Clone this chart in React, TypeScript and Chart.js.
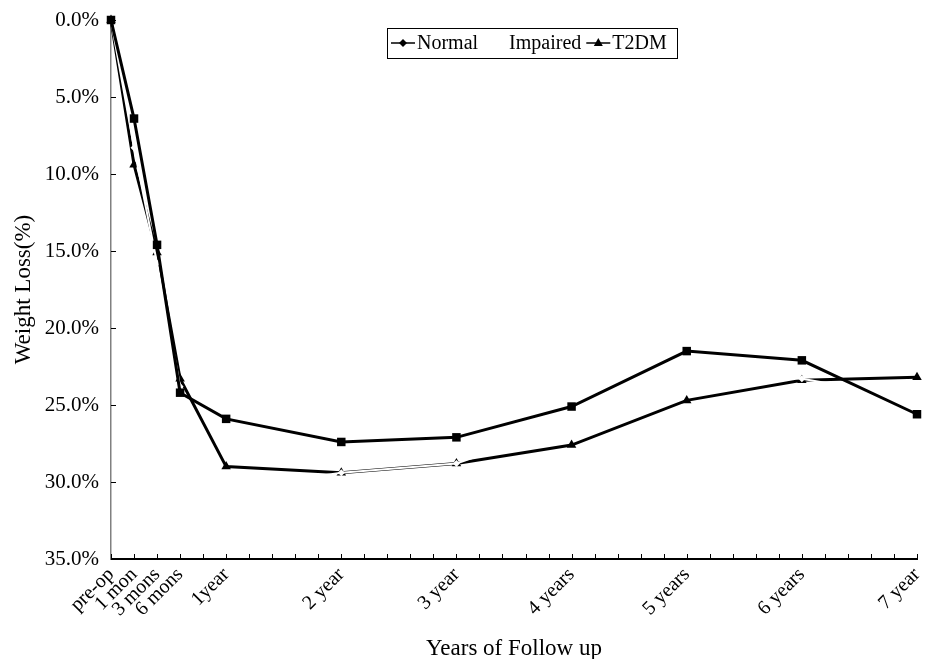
import React, { useEffect, useRef } from "react";
import { Chart, registerables } from "chart.js";

Chart.register(...registerables);

// ---- data ----
const categories = ["pre-op", "1 mon", "3 mons", "6 mons", "1year", "2 year", "3 year", "4 years", "5 years", "6 years", "7 year"];
// slot of each category on the 36-slot category axis (blank slots between years)
const categorySlot = [0, 1, 2, 3, 5, 10, 15, 20, 25, 30, 35];
const slotCount = 36;
const normal = [0, 6.4, 14.6, 24.2, 25.9, 27.4, 27.1, 25.1, 21.5, 22.1, 25.6];
const impaired = [0, 8.3, 15.8, 23.8, 30.5, 29.4, 28.8, 26.2, 22.6, 23.3, 24.6];
const t2dm = [0, 9.4, 15.1, 23.3, 29.0, 29.4, 28.8, 27.6, 24.7, 23.4, 23.2];
const yTicks = [0, 5, 10, 15, 20, 25, 30, 35];
const seriesNames = ["Normal", "Impaired", "T2DM"];
const legendMarkers = ["diamond", "none", "triangle"];

const FONT = "'Liberation Serif', 'Times New Roman', serif";

const toPoints = (vals: number[]) => vals.map((v, i) => ({ x: categorySlot[i], y: v }));

const inwardTicks = {
  id: "inwardTicks",
  beforeDatasetsDraw(chart: any) {
    const { ctx, chartArea, scales } = chart;
    const x = scales.x;
    const y = scales.y;
    ctx.save();
    ctx.strokeStyle = "#000";
    ctx.lineWidth = 1;
    ctx.beginPath();
    for (let i = 0; i < slotCount; i++) {
      const px = Math.round(x.getPixelForValue(i)) + 0.5;
      ctx.moveTo(px, chartArea.bottom);
      ctx.lineTo(px, chartArea.bottom - 5);
    }
    yTicks.forEach((v) => {
      const py = Math.round(y.getPixelForValue(v)) + 0.5;
      ctx.moveTo(chartArea.left, py);
      ctx.lineTo(chartArea.left + 5, py);
    });
    ctx.stroke();
    ctx.restore();
  },
};

function drawMarker(ctx: CanvasRenderingContext2D, kind: string, cx: number, cy: number) {
  ctx.fillStyle = "#000";
  ctx.beginPath();
  if (kind === "diamond") {
    ctx.moveTo(cx, cy - 4);
    ctx.lineTo(cx + 4, cy);
    ctx.lineTo(cx, cy + 4);
    ctx.lineTo(cx - 4, cy);
    ctx.closePath();
    ctx.fill();
  } else if (kind === "triangle") {
    ctx.moveTo(cx, cy - 5);
    ctx.lineTo(cx + 4.5, cy + 3);
    ctx.lineTo(cx - 4.5, cy + 3);
    ctx.closePath();
    ctx.fill();
  }
}

const boxLegend = {
  id: "boxLegend",
  afterDraw(chart: any) {
    const { ctx } = chart;
    const left = 387;
    const top = 28;
    const width = 290;
    const height = 30;
    const cy = top + height / 2;
    ctx.save();
    ctx.fillStyle = "#fff";
    ctx.fillRect(left, top, width, height);
    ctx.strokeStyle = "#000";
    ctx.lineWidth = 1;
    ctx.strokeRect(left + 0.5, top + 0.5, width, height);
    ctx.font = `20px ${FONT}`;
    ctx.textBaseline = "middle";
    ctx.textAlign = "left";
    let xPos = left + 4;
    chart.data.datasets.forEach((ds: any, i: number) => {
      const sample = 24;
      ctx.strokeStyle = ds.borderColor;
      ctx.lineWidth = 1.5;
      ctx.beginPath();
      ctx.moveTo(xPos, cy);
      ctx.lineTo(xPos + sample, cy);
      ctx.stroke();
      drawMarker(ctx, legendMarkers[i], xPos + sample / 2, cy);
      xPos += sample + 2;
      ctx.fillStyle = "#000";
      ctx.fillText(ds.label, xPos, cy + 1);
      xPos += ctx.measureText(ds.label).width + 5;
    });
    ctx.restore();
  },
};

export default function App() {
  const canvasRef = useRef<HTMLCanvasElement | null>(null);

  useEffect(() => {
    if (!canvasRef.current) return;
    const chart = new Chart(canvasRef.current, {
      type: "line",
      data: {
        datasets: [
          {
            label: seriesNames[0],
            data: toPoints(normal),
            borderColor: "#000",
            backgroundColor: "#000",
            borderWidth: 3,
            pointStyle: "rect",
            pointRadius: 6,
            pointBorderWidth: 0,
            clip: false,
          },
          {
            label: seriesNames[1],
            data: toPoints(impaired),
            borderColor: "#fff",
            backgroundColor: "#fff",
            borderWidth: 2,
            pointStyle: "rectRot",
            pointRadius: 3.5,
            pointBorderWidth: 0,
            clip: false,
          },
          {
            label: seriesNames[2],
            data: toPoints(t2dm),
            borderColor: "#000",
            backgroundColor: "#000",
            borderWidth: 3,
            pointStyle: "triangle",
            pointRadius: 5.5,
            pointBorderWidth: 0,
            clip: false,
          },
        ],
      },
      options: {
        animation: false,
        responsive: true,
        maintainAspectRatio: false,
        devicePixelRatio: 1,
        layout: { padding: { left: 0, top: 20, right: 18, bottom: 0 } },
        plugins: { legend: { display: false }, tooltip: { enabled: false } },
        elements: { line: { tension: 0 } },
        scales: {
          x: {
            type: "linear",
            min: 0,
            max: slotCount - 1,
            offset: false,
            afterFit: (s: any) => {
              s.height = 100;
              s.paddingLeft = 0;
              s.paddingRight = 0;
            },
            afterBuildTicks: (s: any) => {
              const t = [];
              for (let i = 0; i < slotCount; i++) t.push({ value: i });
              s.ticks = t;
            },
            grid: { display: false, drawTicks: false },
            border: { display: true, color: "#000", width: 2 },
            ticks: {
              autoSkip: false,
              maxRotation: 45,
              minRotation: 45,
              padding: 4,
              color: "#000",
              font: { family: FONT, size: 20 },
              callback: (v: any) => {
                const idx = categorySlot.indexOf(Number(v));
                return idx >= 0 ? categories[idx] : "";
              },
            },
            title: {
              display: true,
              text: "Years of Follow up",
              color: "#000",
              font: { family: FONT, size: 23, lineHeight: 1 },
              padding: { top: 0, bottom: -1 },
            },
          },
          y: {
            type: "linear",
            reverse: true,
            min: 0,
            max: 35,
            afterFit: (s: any) => {
              s.width = 111;
              s.paddingTop = 0;
              s.paddingBottom = 0;
            },
            afterBuildTicks: (s: any) => {
              s.ticks = yTicks.map((v) => ({ value: v }));
            },
            grid: { display: false, drawTicks: false },
            border: { display: true, color: "#808080", width: 1.5 },
            ticks: {
              padding: 12,
              color: "#000",
              font: { family: FONT, size: 21 },
              callback: (v: any) => Number(v).toFixed(1) + "%",
            },
            title: {
              display: true,
              text: "Weight Loss(%)",
              color: "#000",
              font: { family: FONT, size: 23, lineHeight: 1 },
              padding: { top: 12, bottom: 0 },
            },
          },
        },
      },
      plugins: [inwardTicks, boxLegend],
    });
    return () => chart.destroy();
  }, []);

  return (
    <div style={{ position: "fixed", left: 0, top: 0, width: 935, height: 659, background: "#fff" }}>
      <canvas ref={canvasRef} />
    </div>
  );
}
